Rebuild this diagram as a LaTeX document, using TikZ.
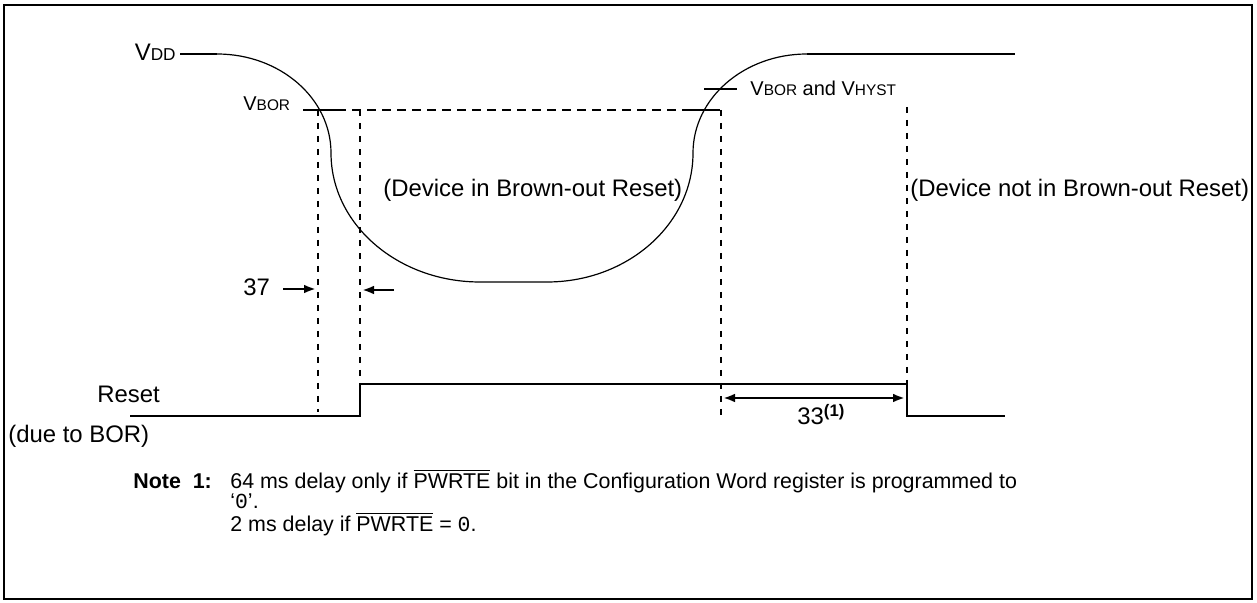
\documentclass[tikz,border=0pt]{standalone}
\usepackage{fontspec}
\setmainfont{Liberation Sans}
\newfontfamily\monofont{Liberation Mono}
\usetikzlibrary{arrows.meta}
\newcommand{\mainsize}{\fontsize{11.95}{14}\selectfont}
\newcommand{\notesize}{\fontsize{10.7}{13}\selectfont}
\newcommand{\pwrte}{$\overline{\hbox{PWRTE}}$}
\begin{document}
\begin{tikzpicture}[x=0.5pt,y=-0.5pt,
  lbl/.style={inner sep=0pt, anchor=base west, font=\mainsize},
  note/.style={inner sep=0pt, anchor=base west, font=\notesize},
  curve/.style={line width=0.6pt},
  thick line/.style={line width=1.3pt},
  dashline/.style={line width=1.2pt, dash pattern=on 4.5pt off 3pt},
  vdash/.style={line width=1.2pt, dash pattern=on 3.2pt off 3.3pt},
  arr/.style={line width=1.2pt, -{Latex[length=6pt,width=4.4pt]}},
  darr/.style={line width=1.2pt, {Latex[length=6pt,width=4.4pt]}-{Latex[length=6pt,width=4.4pt]}}]
\useasboundingbox (0,0) rectangle (1257,603);
\draw[line width=1pt] (4,5) rectangle (1252,599);

% ---- coordinates ----
\coordinate (vddL) at (180,54);
\coordinate (c1) at (217,54);
\coordinate (c2) at (331,153);
\coordinate (c3) at (480,282);
\coordinate (c4) at (547,282);
\coordinate (c5) at (693,153);
\coordinate (c6) at (807,54);
\coordinate (vddR) at (1015,54);

% ---- VDD curve ----
\draw[thick line] (vddL) -- (c1);
\draw[curve] (c1) .. controls (280,54) and (331,98.3) .. (c2)
  .. controls (331,224.2) and (397.7,282) .. (c3) -- (c4)
  .. controls (627.6,282) and (693,224.2) .. (c5)
  .. controls (693,98.3) and (744,54) .. (c6);
\draw[thick line] (c6) -- (vddR);

% ---- VBOR level ----
\coordinate (b1) at (303,110);
\coordinate (b2) at (337,110);
\coordinate (b3) at (685,110);
\coordinate (b4) at (720,110);
\draw[thick line] (b1) -- (b2);
\draw[dashline] (b2) -- (b3);
\draw[thick line] (b3) -- (b4);
\coordinate (h1) at (704,89);
\coordinate (h2) at (737,89);
\draw[thick line] (h1) -- (h2);

% ---- labels ----
\node[lbl, anchor=base east] (vdd) at (176,61) {V{\fontsize{8.6}{10}\selectfont DD}};
\node[lbl, font=\fontsize{10}{12}\selectfont] (vbor) at (243,111) {V{\fontsize{7.7}{9}\selectfont BOR}};
\node[lbl, font=\fontsize{10}{12}\selectfont] (vhyst) at (750,96) {V{\fontsize{7.7}{9}\selectfont BOR} and V{\fontsize{7.7}{9}\selectfont HYST}};
\node[lbl] (inbor) at (383,197) {(Device in Brown-out Reset)};
\node[lbl] (notbor) at (910,197) {(Device not in Brown-out Reset)};
\node[lbl] (t37) at (243,296) {37};
\node[lbl] (reset) at (97,403) {Reset};
\node[lbl] (due) at (8,443) {(due to BOR)};
\node[lbl] (t33) at (797,425) {33\textsuperscript{\textbf{(1)}}};

% ---- vertical dashed lines ----
\coordinate (d1t) at (318,110); \coordinate (d1b) at (318,412);
\coordinate (d2t) at (360,110); \coordinate (d2b) at (360,416);
\coordinate (d3t) at (721,110); \coordinate (d3b) at (721,420);
\coordinate (d4t) at (907,107); \coordinate (d4b) at (907,384);
\draw[vdash] (d1t) -- (d1b);
\draw[vdash] (d2t) -- (d2b);
\draw[vdash] (d3t) -- (d3b);
\draw[vdash] (d4t) -- (d4b);

% ---- 37 arrows ----
\coordinate (a1s) at (283,289); \coordinate (a1e) at (316,289);
\coordinate (a2s) at (394,290); \coordinate (a2e) at (362,290);
\draw[arr] (a1s) -- (a1e);
\draw[arr] (a2s) -- (a2e);

% ---- Reset waveform ----
\coordinate (r0) at (130,416);
\coordinate (r1) at (360,416);
\coordinate (r2) at (360,384);
\coordinate (r3) at (907,384);
\coordinate (r4) at (907,416);
\coordinate (r5) at (1005,416);
\draw[thick line] (r0) -- (r1) -- (r2) -- (r3) -- (r4) -- (r5);

% ---- 33 arrow ----
\coordinate (s1) at (723,398); \coordinate (s2) at (905,398);
\draw[darr] (s1) -- (s2);

% ---- note ----
\node[note, font=\notesize\bfseries] (n1) at (133,488) {Note\ \ 1:};
\node[note] (n2) at (230,488) {64 ms delay only if \pwrte{} bit in the Configuration Word register is programmed to};
\node[note] (n3) at (230,509) {`{\monofont 0}'.};
\node[note] (n4) at (230,531) {2 ms delay if \pwrte{} = {\monofont 0}.};
\end{tikzpicture}
\end{document}
